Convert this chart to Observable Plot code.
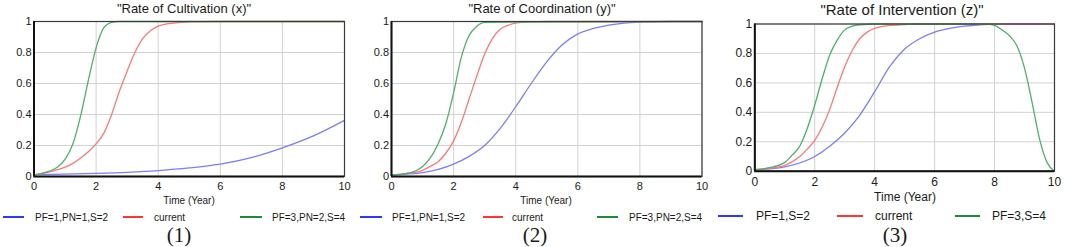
<!DOCTYPE html>
<html><head><meta charset="utf-8">
<script src="https://cdn.jsdelivr.net/npm/d3@7"></script>
<script src="https://cdn.jsdelivr.net/npm/@observablehq/plot@0.6"></script>
<style>
body{margin:0;background:#fff;}
#wrap{position:relative;width:1065px;height:247px;overflow:hidden;background:#fff;font-family:"Liberation Sans",Arial,sans-serif;color:#1a1a1a;}
.abs{position:absolute;white-space:nowrap;}
.c{transform:translate(-50%,-50%);}
.l{transform:translate(0,-50%);}
.sw{position:absolute;height:2px;}
.num{font-family:"Liberation Serif","Times New Roman",serif;font-size:21px;}
</style></head>
<body><div id="wrap"></div>
<script>
// ---- data ----
const xTicks = [0, 2, 4, 6, 8, 10];
const yTicks = [0, 0.2, 0.4, 0.6, 0.8, 1];
const panelTitles = ['"Rate of Cultivation (x)"', '"Rate of Coordination (y)"', '"Rate of Intervention (z)"'];
const panelNums = ["(1)", "(2)", "(3)"];
const xLabel = "Time (Year)";
const legendNames12 = ["PF=1,PN=1,S=2", "current", "PF=3,PN=2,S=4"];
const legendNames3 = ["PF=1,S=2", "current", "PF=3,S=4"];

// Panel 1: Rate of Cultivation (x)
const cultBlueT = [0,1,2,3,4,5,6,7,8,9,10];
const cultBlueV = [0.012,0.015,0.02,0.027,0.038,0.055,0.08,0.122,0.185,0.262,0.362];
const cultRedT = [0,0.5,1,1.25,1.5,1.75,2,2.25,2.5,2.75,3,3.25,3.5,3.75,4,4.5,5,6,10];
const cultRedV = [0.01,0.03,0.06,0.085,0.12,0.16,0.21,0.28,0.4,0.55,0.68,0.8,0.89,0.94,0.97,0.99,0.998,1,1];
const cultGreenT = [0,0.25,0.5,0.75,1,1.25,1.5,1.75,2,2.25,2.5,2.75,10];
const cultGreenV = [0.01,0.02,0.035,0.06,0.11,0.21,0.39,0.62,0.83,0.96,0.995,1,1];

// Panel 2: Rate of Coordination (y)
const coordBlueT = [0,1,2,2.5,3,3.5,4,4.5,5,5.5,6,6.5,7,7.5,8,9,10];
const coordBlueV = [0.01,0.025,0.08,0.13,0.2,0.31,0.45,0.6,0.74,0.85,0.92,0.955,0.977,0.99,0.996,1,1];
const coordRedT = [0,0.5,1,1.25,1.5,1.75,2,2.25,2.5,2.75,3,3.25,3.5,3.75,4,4.5,5,10];
const coordRedV = [0.01,0.02,0.04,0.065,0.095,0.15,0.23,0.35,0.5,0.65,0.79,0.89,0.95,0.975,0.99,0.998,1,1];
const coordGreenT = [0,0.5,1,1.25,1.5,1.75,2,2.25,2.5,2.75,3,10];
const coordGreenV = [0.01,0.02,0.065,0.12,0.21,0.34,0.54,0.77,0.91,0.97,0.995,1];

// Panel 3: Rate of Intervention (z)
const intBlueT = [0,1,2,2.5,3,3.5,4,4.5,5,5.5,6,6.5,7,7.5,8,10];
const intBlueV = [0.01,0.03,0.1,0.17,0.26,0.38,0.54,0.71,0.83,0.9,0.945,0.97,0.985,0.995,1,1];
const intRedT = [0,0.5,1,1.25,1.5,1.75,2,2.25,2.5,2.75,3,3.25,3.5,3.75,4,4.5,5,5.5,10];
const intRedV = [0.01,0.02,0.04,0.065,0.1,0.15,0.21,0.3,0.42,0.57,0.71,0.82,0.9,0.945,0.97,0.99,0.996,1,1];
const intGreenT = [0,0.5,1,1.25,1.5,1.75,2,2.25,2.5,2.75,3,3.25,3.5,4,7.7,8,8.25,8.5,8.75,9,9.25,9.5,9.75,10];
const intGreenV = [0.01,0.025,0.06,0.11,0.17,0.29,0.45,0.63,0.79,0.89,0.96,0.985,0.995,1,1,0.99,0.96,0.92,0.85,0.7,0.47,0.22,0.06,0];

const lineColors = ["#7c7cff", "#ff7878", "#4cb26c"];
const legendColors = ["#3434ff", "#ff3535", "#1c8c3c"];

// ---- build ----
const wrap = document.getElementById("wrap");
function series(k, T, V){ return T.map((t,i)=>({t, v:V[i], k})); }
function add(txt, cls, left, top, style){
  const d = document.createElement("div");
  d.className = "abs " + cls;
  d.style.left = left + "px"; d.style.top = top + "px";
  if (style) Object.assign(d.style, style);
  d.textContent = txt;
  wrap.appendChild(d);
  return d;
}

const panels = [
  {data:[series(0,cultBlueT,cultBlueV),series(1,cultRedT,cultRedV),series(2,cultGreenT,cultGreenV)],
   left:0, width:350, height:195, mL:33.5, mR:6, mT:21, mB:19, tick:11,
   title:{x:184,y:8,size:13}, xl:{x:189,y:200,size:10},
   leg:{y:217,size:10,names:legendNames12,items:[[3,24,35],[123,143,154],[240,262,272]]}, num:{x:179,y:235}},
  {data:[series(0,coordBlueT,coordBlueV),series(1,coordRedT,coordRedV),series(2,coordGreenT,coordGreenV)],
   left:355, width:352, height:195, mL:36, mR:5.5, mT:21, mB:19, tick:11,
   title:{x:542,y:8,size:13}, xl:{x:546,y:200,size:10},
   leg:{y:217,size:10,names:legendNames12,items:[[360,382,392],[483,503,512],[597,618,629]]}, num:{x:535,y:235}},
  {data:[series(0,intBlueT,intBlueV),series(1,intRedT,intRedV),series(2,intGreenT,intGreenV)],
   left:712, width:350, height:195, mL:42.3, mR:8, mT:23.5, mB:24.3, tick:12,
   title:{x:902,y:9,size:15}, xl:{x:905,y:197,size:12},
   leg:{y:216,size:12,names:legendNames3,items:[[718,743,756],[837,863,875],[955,980,992]]}, num:{x:895,y:235}}
];

panels.forEach((p, pi) => {
  const marks = [
    Plot.gridX(xTicks, {stroke:"#d2d2d2", strokeOpacity:1}),
    Plot.gridY(yTicks, {stroke:"#d2d2d2", strokeOpacity:1}),
    ...p.data.map((d, i) => Plot.line(d, {x:"t", y:"v", stroke: lineColors[i], strokeWidth:1.3, curve:"monotone-x"})),
    Plot.frame({stroke:"#3a3a3a", strokeWidth:1.2}),
    Plot.ruleX([0], {stroke:"#111", strokeWidth:2}),
    Plot.ruleY([0], {stroke:"#111", strokeWidth:2})
  ];
  const chart = Plot.plot({
    width:p.width, height:p.height,
    marginLeft:p.mL, marginRight:p.mR, marginTop:p.mT, marginBottom:p.mB,
    style:{fontFamily:'"Liberation Sans",Arial,sans-serif', fontSize:p.tick+"px", color:"#1a1a1a", background:"transparent", overflow:"visible"},
    x:{domain:[0,10], ticks:xTicks, tickSize:0, tickPadding:6, label:null},
    y:{domain:[0,1], ticks:yTicks, tickSize:0, tickPadding:2.5, label:null, tickFormat:d=>String(d)},
    marks
  });
  chart.style.position = "absolute";
  chart.style.left = p.left + "px";
  chart.style.top = "0px";
  wrap.appendChild(chart);

  add(panelTitles[pi], "c", p.title.x, p.title.y, {fontSize:p.title.size+"px"});
  add(xLabel, "c", p.xl.x, p.xl.y, {fontSize:p.xl.size+"px"});
  p.leg.items.forEach((it, i) => {
    const s = document.createElement("div");
    s.className = "sw";
    s.style.left = it[0] + "px";
    s.style.width = (it[1]-it[0]) + "px";
    s.style.top = (p.leg.y - 1) + "px";
    s.style.backgroundColor = legendColors[i];
    wrap.appendChild(s);
    add(p.leg.names[i], "l", it[2], p.leg.y, {fontSize:p.leg.size+"px"});
  });
  add(panelNums[pi], "c num", p.num.x, p.num.y);
});
</script>
</body></html>
